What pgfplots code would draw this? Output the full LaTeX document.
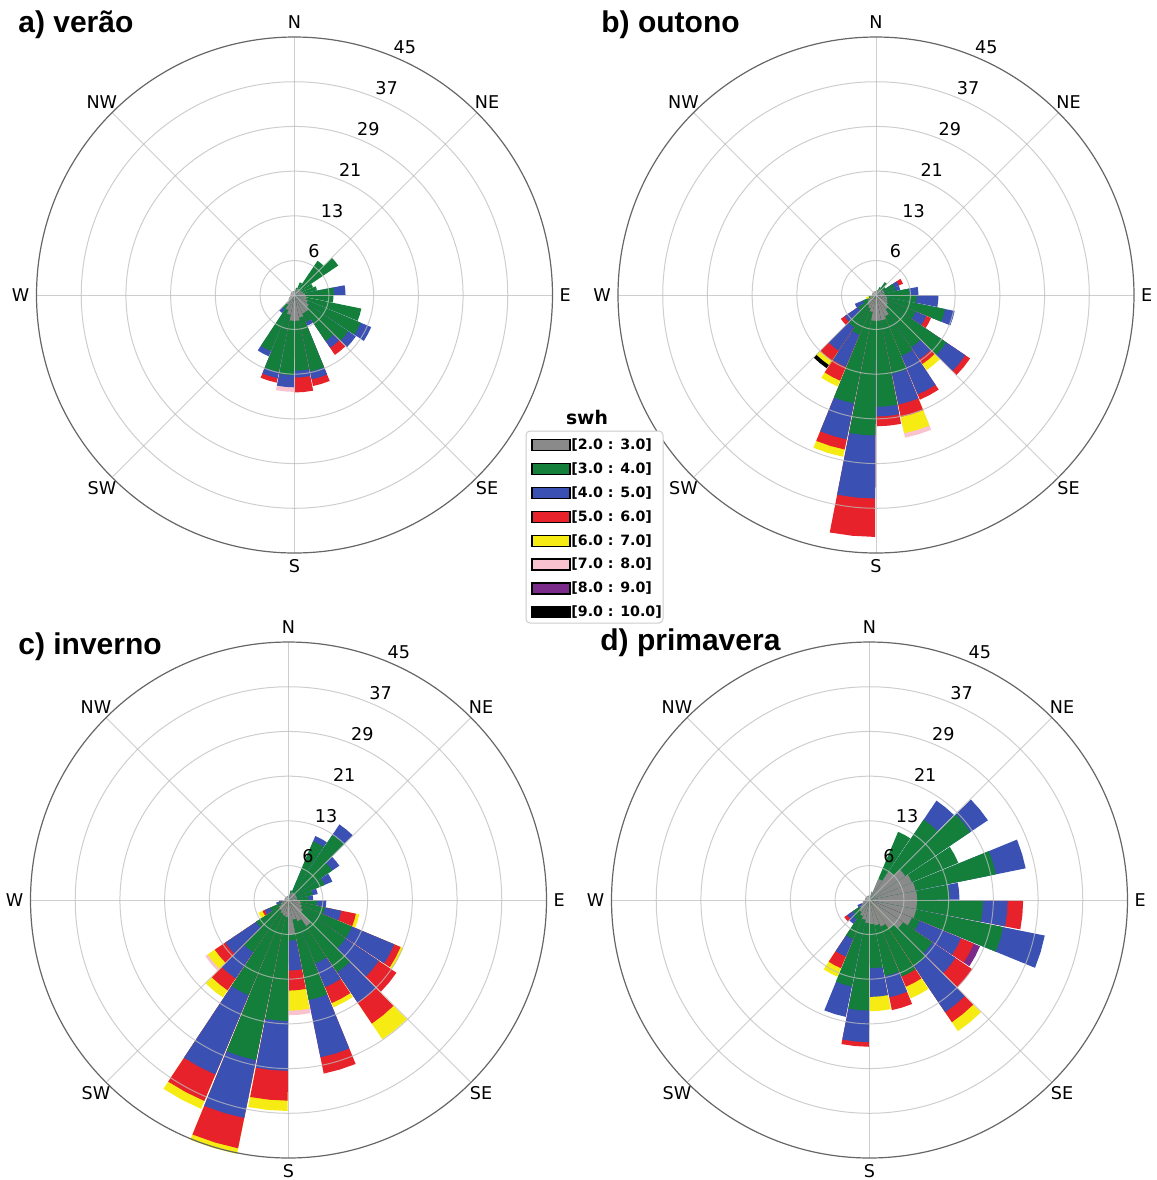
\documentclass[border=0pt]{standalone}
\usepackage{pgfplots}
\usepackage{pgfplotstable}
\pgfplotsset{compat=1.18}
\usepackage{fontspec}
\setmainfont{DejaVu Sans}
\newfontfamily\titlefont{Liberation Sans}

\definecolor{colA}{HTML}{8A8A8A}
\definecolor{colB}{HTML}{137F3B}
\definecolor{colC}{HTML}{3A50B2}
\definecolor{colD}{HTML}{E8222A}
\definecolor{colE}{HTML}{F6EC14}
\definecolor{colF}{HTML}{F8C2CF}
\definecolor{colG}{HTML}{7A2A88}
\definecolor{colH}{HTML}{000000}
\definecolor{gridc}{HTML}{BDBDBD}

% 32 direction sectors (11.25 deg); d = sector centre (compass deg)
% frequency (%) of each swh class:
% g=[2,3) G=[3,4) B=[4,5) R=[5,6) Y=[6,7) P=[7,8) U=[8,9) K=[9,10)
\pgfplotstableread{
d        g    G     B    R    Y    P    U    K
5.625    0.8  0     0    0    0    0    0    0
16.875   1.0  0.3   0    0    0    0    0    0
28.125   1.2  1.2   0    0    0    0    0    0
39.375   1.3  5.9   0    0    0    0    0    0
50.625   1.3  7.9   0    0    0    0    0    0
61.875   1.3  2.2   0    0    0    0    0    0
73.125   1.5  2.5   0    0    0    0    0    0
84.375   1.8  5.1   2.0  0    0    0    0    0
95.625   2.0  4.8   0    0    0    0    0    0
106.875  2.2  9.7   0    0    0    0    0    0
118.125  2.5  10.0  2.0  0    0    0    0    0
129.375  3.0  8.3   1.6  0    0    0    0    0
140.625  3.5  6.2   1.4  1.5  0    0    0    0
151.875  3.5  1.6   0.7  0    0    0    0    0
163.125  4.0  9.6   1.4  1.2  0    0    0    0
174.375  4.5  8.7   1.2  2.6  0    0    0    0
185.625  4.5  9.5   2.1  0    0    0.8  0    0
196.875  3.5  10.2  1.1  0.8  0    0    0    0
208.125  2.8  7.8   1.0  0    0    0    0    0
219.375  2.0  1.0   0.8  0    0    0    0    0
230.625  1.3  0     0    0    0    0    0    0
241.875  1.0  0     0    0    0    0    0    0
253.125  0.8  0     0    0    0    0    0    0
264.375  0.7  0     0    0    0    0    0    0
275.625  0.7  0     0    0    0    0    0    0
286.875  0.7  0     0    0    0    0    0    0
298.125  0.7  0     0    0    0    0    0    0
309.375  0.7  0     0    0    0    0    0    0
320.625  0.7  0     0    0    0    0    0    0
331.875  0.7  0     0    0    0    0    0    0
343.125  0.7  0     0    0    0    0    0    0
354.375  0.7  0     0    0    0    0    0    0
}\tabA

\pgfplotstableread{
d        g    G     B    R    Y    P    U    K
5.625    0.8  0     0    0    0    0    0    0
16.875   0.9  0     0    0    0    0    0    0
28.125   1.0  0.5   0    0    0    0    0    0
39.375   1.2  1.5   0    0    0    0    0    0
50.625   1.2  0.8   0    0    0    0    0    0
61.875   1.5  2.0   0.8  0.8  0    0    0    0
73.125   1.5  2.0   0.8  0    0    0    0    0
84.375   1.5  4.4   1.5  0    0    0    0    0
95.625   1.8  5.3   3.8  0    0    0    0    0
106.875  2.0  10.3  1.7  0    0    0    0    0
118.125  2.2  5.3   2.0  0.9  0    0    0    0
129.375  2.5  12.3  4.0  1.0  0    0    0    0
140.625  3.0  8.0   2.5  1.0  1.3  0    0    0
151.875  4.0  7.5   7.3  1.0  0    0    0    0
163.125  4.5  9.5   5.5  2.2  2.9  0.8  0    0
174.375  4.5  15.0  1.7  1.7  0    0    0    0
185.625  4.5  20.0  11.0 6.7  0    0    0    0
196.875  3.0  16.3  6.4  1.8  1.3  0    0    0
208.125  2.5  5.0   6.1  2.6  1.1  0    0    0
219.375  2.2  4.6   4.9  2.1  0.9  0    0    0.7
230.625  1.8  2.0   2.8  0.8  0    0    0    0
241.875  1.5  1.0   1.5  0    0    0    0    0
253.125  1.0  0.3   0    0    0.5  0    0    0
264.375  0.7  0     0    0    0    0    0    0
275.625  0.7  0     0    0    0    0    0    0
286.875  0.7  0     0    0    0    0    0    0
298.125  0.7  0     0    0    0    0    0    0
309.375  0.7  0     0    0    0    0    0    0
320.625  0.7  0     0    0    0    0    0    0
331.875  0.7  0     0    0    0    0    0    0
343.125  0.7  0     0    0    0    0    0    0
354.375  0.7  0     0    0    0    0    0    0
}\tabB

\pgfplotstableread{
d        g    G     B    R    Y    P    U    K
5.625    0.8  0     0    0    0    0    0    0
16.875   1.2  0.5   0    0    0    0    0    0
28.125   1.5  9.6   1.0  0    0    0    0    0
39.375   1.5  12.2  2.2  0    0    0    0    0
50.625   1.5  7.7   1.5  0    0    0    0    0
61.875   1.5  5.3   1.5  0    0    0    0    0
73.125   1.5  2.8   0.9  0    0    0    0    0
84.375   1.5  2.0   0.8  0    0    0    0    0
95.625   2.0  3.0   1.6  0    0    0    0    0
106.875  2.2  4.3   2.9  2.6  0.6  0    0    0
118.125  2.5  9.5   8.0  1.2  0.5  0    0    0
129.375  3.0  9.0   7.0  3.7  0    0    0    0
140.625  5.5  9.7   6.4  4.4  3.3  0    0    0
151.875  4.0  8.0   4.5  3.0  0.8  0    0    0
163.125  3.5  14.3  10.2 2.9  0    0    0    0
174.375  6.0  1.1   5.2  3.5  3.5  0.8  0    0
185.625  3.0  18.1  8.7  5.2  1.8  0    0    0
196.875  2.8  25.7  10.3 5.4  1.0  0    0    0
208.125  2.5  15.5  15.0 5.0  1.5  0    0    0
219.375  2.2  8.8   5.5  2.5  1.5  0    0    0
230.625  2.0  4.8   6.5  2.2  1.5  0.5  0    0
241.875  1.5  2.0   1.0  0.4  0.8  0    0    0
253.125  1.2  0.5   0.5  0    0    0    0    0
264.375  1.0  0     0.3  0    0    0    0.4  0
275.625  0.7  0     0    0    0    0    0    0
286.875  0.7  0     0    0    0    0    0    0
298.125  0.7  0     0    0    0    0    0    0
309.375  0.7  0     0    0    0    0    0    0
320.625  0.7  0     0    0    0    0    0    0
331.875  0.7  0     0    0    0    0    0    0
343.125  0.7  0     0    0    0    0    0    0
354.375  0.7  0     0    0    0    0    0    0
}\tabC

\pgfplotstableread{
d        g    G     B    R    Y    P    U    K
5.625    0.8  0     0    0    0    0    0    0
16.875   1.5  0     0    0    0    0    0    0
28.125   4.0  8.9   0    0    0    0    0    0
39.375   6.0  10.9  4.0  0    0    0    0    0
50.625   7.5  13.7  3.7  0    0    0    0    0
61.875   8.0  8.8   0    0    0    0    0    0
73.125   8.2  14.3  5.3  0    0    0    0    0
84.375   8.3  5.7   1.7  0    0    0    0    0
95.625   8.3  11.5  4.3  2.7  0    0    0    0
106.875  8.3  15.5  7.4  0    0    0    0    0
118.125  8.0  1.5   7.8  2.4  0    0    1.2  0
129.375  7.0  6.2   4.9  3.5  0    0    0    0
140.625  6.0  7.9   9.7  2.1  1.9  0    0    0
151.875  5.0  9.5   0    1.9  2.2  0    0    0
163.125  4.5  9.0   3.8  2.3  0    0    0    0
174.375  4.2  7.7   5.0  0    2.5  0    0    0
185.625  4.0  15.3  5.5  0.8  0    0    0    0
196.875  3.5  11.9  5.4  0    0    0    0    0
208.125  3.0  4.4   3.3  2.2  1.6  0    0    0
219.375  2.5  1.5   1.0  0    0    0    0    0
230.625  2.0  1.5   1.2  0.6  0    0    0    0
241.875  1.5  0     0.8  0    0    0    0    0
253.125  1.2  0     0    0    0    0    0    0
264.375  0.8  0     0    0    0    0    0    0
275.625  0.8  0     0    0    0    0    0    0
286.875  0.8  0     0    0    0    0    0    0
298.125  0.8  0     0    0    0    0    0    0
309.375  0.8  0     0    0    0    0    0    0
320.625  0.8  0     0    0    0    0    0    0
331.875  0.8  0     0    0    0    0    0    0
343.125  0.8  0     0    0    0    0    0    0
354.375  0.8  0     0    0    0    0    0    0
}\tabD

% one wedge (sector of 11.25 deg, centre #1 compass deg) from 0 to radius #2
\newcommand\drawwedge[3]{%
  \pgfmathsetmacro\aA{90-#1+5.4}%
  \pgfmathsetmacro\aM{90-#1}%
  \pgfmathsetmacro\aB{90-#1-5.4}%
  \edef\tmp{\noexpand\addplot[fill=#3,draw=none,data cs=polar,forget plot] coordinates {(0,0) (\aA,#2) (\aM,#2) (\aB,#2) (0,0)};}%
  \tmp}

\newcommand\getv[3]{\pgfplotstablegetelem{\ii}{#1}\of{#2}\edef#3{\pgfplotsretval}}

\newcommand\drawrose[1]{%
  \pgfplotstablegetrowsof{#1}%
  \pgfmathtruncatemacro\nrows{\pgfplotsretval-1}%
  \pgfplotsforeachungrouped \ii in {0,...,\nrows}{%
    \getv{d}{#1}\dd
    \getv{g}{#1}\vA \getv{G}{#1}\vB \getv{B}{#1}\vC \getv{R}{#1}\vD
    \getv{Y}{#1}\vE \getv{P}{#1}\vF \getv{U}{#1}\vG \getv{K}{#1}\vH
    \pgfmathsetmacro\cA{\vA}%
    \pgfmathsetmacro\cB{\cA+\vB}%
    \pgfmathsetmacro\cC{\cB+\vC}%
    \pgfmathsetmacro\cD{\cC+\vD}%
    \pgfmathsetmacro\cE{\cD+\vE}%
    \pgfmathsetmacro\cF{\cE+\vF}%
    \pgfmathsetmacro\cG{\cF+\vG}%
    \pgfmathsetmacro\cH{\cG+\vH}%
    \ifdim\vH pt>0pt \drawwedge{\dd}{\cH}{colH}\fi
    \ifdim\vG pt>0pt \drawwedge{\dd}{\cG}{colG}\fi
    \ifdim\vF pt>0pt \drawwedge{\dd}{\cF}{colF}\fi
    \ifdim\vE pt>0pt \drawwedge{\dd}{\cE}{colE}\fi
    \ifdim\vD pt>0pt \drawwedge{\dd}{\cD}{colD}\fi
    \ifdim\vC pt>0pt \drawwedge{\dd}{\cC}{colC}\fi
    \ifdim\vB pt>0pt \drawwedge{\dd}{\cB}{colB}\fi
    \ifdim\vA pt>0pt \drawwedge{\dd}{\cA}{colA}\fi
  }%
}

\newcommand\lblfont{\fontsize{8.8pt}{10pt}\selectfont}
\tikzset{gl/.style={gridc,line width=0.5pt,draw opacity=0.75}}
\newcommand\gridrose{%
  \draw[gl] (axis cs:0,0) circle[radius=6];
  \draw[gl] (axis cs:0,0) circle[radius=13.8];
  \draw[gl] (axis cs:0,0) circle[radius=21.6];
  \draw[gl] (axis cs:0,0) circle[radius=29.4];
  \draw[gl] (axis cs:0,0) circle[radius=37.2];
  \draw[gl] (axis cs:-45,0) -- (axis cs:45,0);
  \draw[gl] (axis cs:0,-45) -- (axis cs:0,45);
  \draw[gl] (axis cs:-31.82,-31.82) -- (axis cs:31.82,31.82);
  \draw[gl] (axis cs:-31.82,31.82) -- (axis cs:31.82,-31.82);
  \draw[black!60,line width=0.6pt] (axis cs:0,0) circle[radius=45];
  \node[font=\lblfont] at (axis cs:0,47.6) {N};
  \node[font=\lblfont] at (axis cs:0,-47.3) {S};
  \node[font=\lblfont] at (axis cs:47.2,0) {E};
  \node[font=\lblfont] at (axis cs:-47.8,0) {W};
  \node[font=\lblfont] at (axis cs:33.6,33.6) {NE};
  \node[font=\lblfont] at (axis cs:-33.6,33.6) {NW};
  \node[font=\lblfont] at (axis cs:33.6,-33.6) {SE};
  \node[font=\lblfont] at (axis cs:-33.6,-33.6) {SW};
  \node[font=\lblfont] at (axis cs:3.38,7.58) {6};
  \node[font=\lblfont] at (axis cs:6.55,14.71) {13};
  \node[font=\lblfont] at (axis cs:9.72,21.83) {21};
  \node[font=\lblfont] at (axis cs:12.89,28.96) {29};
  \node[font=\lblfont] at (axis cs:16.07,36.08) {37};
  \node[font=\lblfont] at (axis cs:19.24,43.21) {45};
}

\pgfplotsset{roseaxis/.style={anchor=center,width=258pt,height=258pt,scale only axis,
  xmin=-45,xmax=45,ymin=-45,ymax=45,hide axis,clip=false}}

\begin{document}
\begin{tikzpicture}[x=0.5pt,y=-0.5pt]
\useasboundingbox (0,0) rectangle (1157,1180);

\begin{axis}[roseaxis,at={(147.25pt,-147.5pt)}]
\drawrose{\tabA}
\gridrose
\end{axis}
\begin{axis}[roseaxis,at={(438pt,-147.5pt)}]
\drawrose{\tabB}
\gridrose
\end{axis}
\begin{axis}[roseaxis,at={(144.25pt,-450pt)}]
\drawrose{\tabC}
\gridrose
\end{axis}
\begin{axis}[roseaxis,at={(434.75pt,-450pt)}]
\drawrose{\tabD}
\gridrose
\end{axis}

\tikzset{ttl/.style={anchor=base west,inner sep=0pt,font=\titlefont\bfseries\fontsize{15pt}{17pt}\selectfont}}
\node[ttl] at (18,32) {a) verão};
\node[ttl] at (601,32) {b) outono};
\node[ttl] at (18,654) {c) inverno};
\node[ttl] at (600,650) {d) primavera};

% legend
\node[anchor=base,font=\bfseries\fontsize{9.4pt}{11pt}\selectfont] at (587,424) {swh};
\draw[black!20,line width=0.5pt,rounded corners=2pt,fill=white] (526,431) rectangle (663,623);
\foreach \col/\txt [count=\i from 0] in {colA/{[2.0 : 3.0]},colB/{[3.0 : 4.0]},colC/{[4.0 : 5.0]},colD/{[5.0 : 6.0]},colE/{[6.0 : 7.0]},colF/{[7.0 : 8.0]},colG/{[8.0 : 9.0]},colH/{[9.0 : 10.0]}}{
  \pgfmathsetmacro\yy{445+23.9*\i}
  \draw[fill=\col,draw=black,line width=0.6pt] (532,\yy-5.5) rectangle (570,\yy+5.5);
  \node[anchor=west,inner sep=0pt,font=\bfseries\fontsize{7.1pt}{8pt}\selectfont] at (571,\yy) {\txt};
}
\end{tikzpicture}
\end{document}
